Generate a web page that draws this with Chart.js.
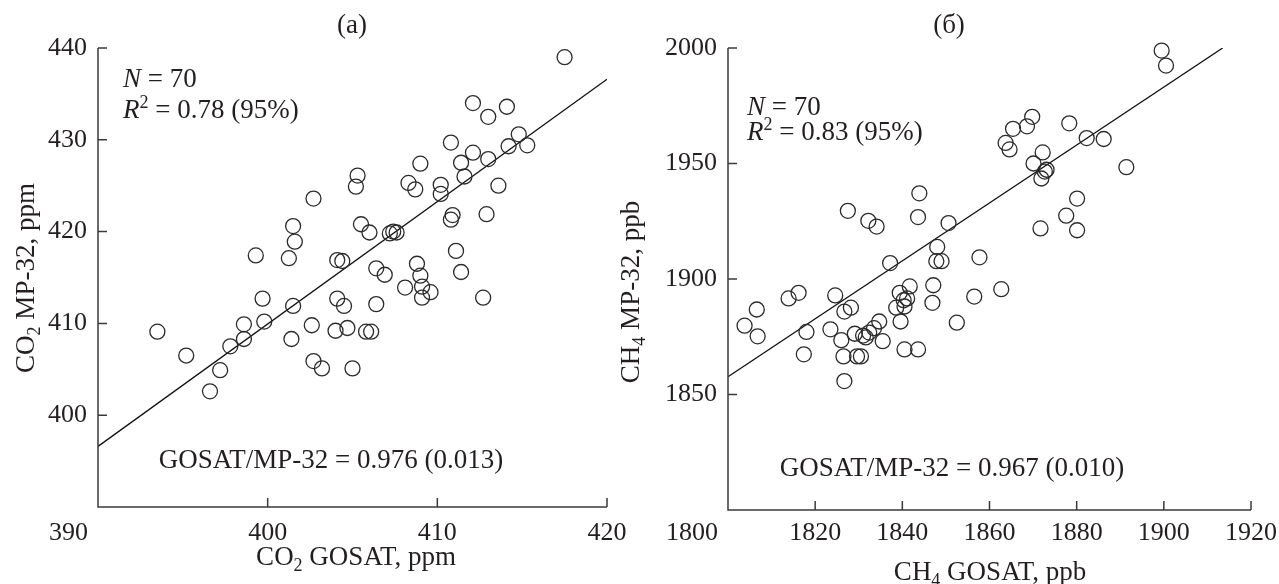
<!DOCTYPE html>
<html>
<head>
<meta charset="utf-8">
<script src="https://cdn.jsdelivr.net/npm/chart.js@4/dist/chart.umd.min.js"></script>
<style>
  body { margin: 0; background: #fff; width: 1279px; height: 584px; overflow: hidden; position: relative; }
  .wrap { position: absolute; top: 0; }
</style>
</head>
<body>
<div class="wrap" style="left:0"><canvas id="chA" width="640" height="584" style="width:640px;height:584px"></canvas></div>
<div class="wrap" style="left:600px"><canvas id="chB" width="679" height="584" style="width:679px;height:584px"></canvas></div>
<script>
// (a) CO2
const co2Gosat = [393.5, 395.2, 396.6, 397.2, 397.8, 398.6, 398.6, 399.3, 399.7, 399.8,
  401.25, 401.5, 401.6, 401.5, 401.4, 402.7, 402.6, 402.7, 403.2, 404.1,
  404.4, 404.1, 404.5, 404.0, 404.7, 405.0, 405.3, 405.2, 405.5, 406.0,
  406.4, 406.4, 405.8, 406.1, 406.9, 407.2, 407.4, 407.6, 408.1, 408.3,
  408.7, 409.0, 408.8, 409.0, 409.1, 409.1, 409.6, 410.2, 410.2, 410.8,
  410.9, 410.8, 411.1, 411.4, 411.4, 411.6, 412.1, 412.1, 412.7, 413.0,
  413.0, 412.9, 413.6, 414.1, 414.2, 414.8, 415.3, 417.5];
const co2Mp = [409.1, 406.5, 402.6, 404.9, 407.5, 409.9, 408.3, 417.4, 412.7, 410.2,
  417.1, 420.6, 418.9, 411.9, 408.3, 423.6, 409.8, 405.9, 405.1, 416.9,
  416.8, 412.7, 411.9, 409.2, 409.5, 405.1, 426.1, 424.9, 420.8, 419.9,
  416.0, 412.1, 409.1, 409.1, 415.3, 419.8, 420.0, 419.9, 413.9, 425.3,
  424.6, 427.4, 416.5, 415.2, 414.0, 412.8, 413.4, 425.1, 424.1, 429.7,
  421.8, 421.3, 417.9, 415.6, 427.5, 426.0, 434.0, 428.6, 412.8, 432.5,
  427.9, 421.9, 425.0, 433.6, 429.3, 430.6, 429.4, 439.0];
const co2FitX = [390, 420];
const co2FitY = [396.6, 436.6];
const co2XTicks = [390, 400, 410, 420];
const co2YTicks = [400, 410, 420, 430, 440];

// (б) CH4
const ch4Gosat = [1803.8, 1806.6, 1806.8, 1813.9, 1816.2, 1818.0, 1817.4, 1823.5, 1824.6, 1826.0,
  1826.5, 1826.7, 1826.7, 1828.2, 1827.5, 1829.1, 1829.6, 1830.5, 1831.0, 1831.6,
  1832.4, 1832.2, 1834.1, 1833.5, 1834.7, 1835.5, 1837.2, 1838.6, 1839.4, 1839.6,
  1840.3, 1840.5, 1841.1, 1840.5, 1841.7, 1843.6, 1843.9, 1843.6, 1846.9, 1847.1,
  1848.0, 1847.8, 1849.0, 1850.6, 1852.5, 1856.5, 1857.7, 1862.7, 1863.7, 1864.6,
  1865.4, 1868.6, 1869.8, 1870.1, 1871.7, 1872.2, 1871.9, 1872.7, 1873.1, 1877.6,
  1878.3, 1880.1, 1880.1, 1882.3, 1886.2, 1891.4, 1899.5, 1900.5];
const ch4Mp = [1879.8, 1886.8, 1875.2, 1891.6, 1894.0, 1877.1, 1867.4, 1878.2, 1892.9, 1873.5,
  1866.5, 1855.8, 1885.9, 1887.6, 1929.5, 1876.3, 1866.5, 1866.5, 1875.5, 1874.7,
  1876.8, 1925.2, 1922.7, 1878.7, 1881.6, 1873.1, 1906.9, 1887.6, 1894.0, 1881.6,
  1890.8, 1888.1, 1891.6, 1869.5, 1896.8, 1869.5, 1937.1, 1926.8, 1889.7, 1897.3,
  1913.9, 1907.7, 1907.7, 1924.2, 1881.1, 1892.4, 1909.4, 1895.6, 1958.9, 1956.1,
  1965.0, 1966.1, 1970.2, 1950.0, 1921.9, 1954.8, 1943.5, 1946.5, 1947.3, 1927.4,
  1967.4, 1934.8, 1921.1, 1961.0, 1960.6, 1948.4, 1998.9, 1992.4];
const ch4FitX = [1800, 1913.5];
const ch4FitY = [1857.7, 2000];
const ch4XTicks = [1800, 1820, 1840, 1860, 1880, 1900, 1920];
const ch4YTicks = [1850, 1900, 1950, 2000];

const SERIF = '"Liberation Serif", "Times New Roman", serif';
const INK = '#231f20';

// parts: [text, kind], kind '' | 'i' | 'sub' | 'sup'
function rich(ctx, parts, x, y, align, size) {
  const fonts = parts.map(([t, k]) => {
    const s = (k === 'sub' || k === 'sup') ? Math.round(size * 0.68) : size;
    return (k === 'i' ? 'italic ' : '') + s + 'px ' + SERIF;
  });
  const widths = parts.map(([t], i) => { ctx.font = fonts[i]; return ctx.measureText(t).width; });
  const total = widths.reduce((a, b) => a + b, 0);
  let cx = align === 'center' ? x - total / 2 : align === 'right' ? x - total : x;
  ctx.textAlign = 'left';
  ctx.textBaseline = 'alphabetic';
  parts.forEach(([t, k], i) => {
    ctx.font = fonts[i];
    const dy = k === 'sub' ? size * 0.22 : k === 'sup' ? -size * 0.38 : 0;
    ctx.fillText(t, cx, y + dy);
    cx += widths[i];
  });
}

const frame = {
  id: 'frame',
  afterDraw(chart, args, o) {
    const { ctx, chartArea: a } = chart;
    const xs = chart.scales.x, ys = chart.scales.y;
    ctx.save();
    ctx.strokeStyle = '#3a3a3a';
    ctx.lineWidth = 1.5;
    ctx.beginPath();
    ctx.moveTo(a.left, a.top);
    ctx.lineTo(a.left, a.bottom);
    ctx.lineTo(a.right, a.bottom);
    o.yTicks.forEach(v => {
      const p = ys.getPixelForValue(v);
      ctx.moveTo(a.left, p); ctx.lineTo(a.left + 9, p);
    });
    o.xTicks.slice(1).forEach(v => {
      const p = xs.getPixelForValue(v);
      ctx.moveTo(p, a.bottom); ctx.lineTo(p, a.bottom - 9);
    });
    ctx.stroke();

    ctx.fillStyle = INK;
    ctx.font = '26px ' + SERIF;
    ctx.textBaseline = 'alphabetic';
    o.xTicks.forEach((v, i) => {
      const p = xs.getPixelForValue(v);
      ctx.textAlign = i === 0 ? 'right' : 'center';
      ctx.fillText(String(v), i === 0 ? p - 10 : p, o.tickBase);
    });

    rich(ctx, [[o.title, '']], o.titleX, o.titleBase, 'center', 27);
    rich(ctx, o.xTitle, o.xTitleX, o.xTitleBase, 'center', 27);
    ctx.save();
    ctx.translate(o.yTitleBase, o.yTitleY);
    ctx.rotate(-Math.PI / 2);
    rich(ctx, o.yTitle, 0, 0, 'center', 27);
    ctx.restore();
    rich(ctx, [['N', 'i'], [' = 70', '']], o.noteX, o.nBase, 'left', 27);
    rich(ctx, [['R', 'i'], ['2', 'sup'], [' = ' + o.r2, '']], o.noteX, o.rBase, 'left', 27);
    rich(ctx, [['GOSAT/MP-32 = ' + o.ratio, '']], o.ratioX, o.ratioBase, 'center', 27);
    ctx.restore();
  }
};

function panel(id, gx, gy, fitX, fitY, xr, yr, xTicks, yTicks, yWidth, pad, text) {
  return new Chart(document.getElementById(id), {
    type: 'scatter',
    data: {
      datasets: [
        {
          data: gx.map((v, i) => ({ x: v, y: gy[i] })),
          pointStyle: 'circle',
          pointRadius: 7.5,
          borderWidth: 1.3,
          borderColor: '#2b2b2b',
          backgroundColor: 'rgba(0,0,0,0)',
          clip: false
        },
        {
          data: fitX.map((v, i) => ({ x: v, y: fitY[i] })),
          showLine: true,
          pointRadius: 0,
          borderWidth: 1.3,
          borderColor: '#111'
        }
      ]
    },
    options: {
      responsive: false,
      animation: false,
      devicePixelRatio: 1,
      events: [],
      layout: { padding: pad },
      scales: {
        x: { type: 'linear', min: xr[0], max: xr[1], display: false },
        y: {
          type: 'linear', min: yr[0], max: yr[1],
          grid: { display: false, drawTicks: false },
          border: { display: false },
          afterBuildTicks: s => { s.ticks = yTicks.map(v => ({ value: v })); },
          afterFit: s => { s.width = yWidth; },
          ticks: {
            padding: 11,
            color: INK,
            font: { family: SERIF, size: 26 },
            callback: v => String(v)
          }
        }
      },
      plugins: {
        legend: { display: false },
        tooltip: { enabled: false },
        frame: Object.assign({ xTicks, yTicks }, text)
      }
    },
    plugins: [frame]
  });
}

panel('chA', co2Gosat, co2Mp, co2FitX, co2FitY, [390, 420], [390, 440], co2XTicks, co2YTicks,
  98, { left: 0, top: 48, right: 33, bottom: 77 }, {
    tickBase: 540,
    title: '(a)', titleX: 352, titleBase: 33,
    xTitle: [['CO', ''], ['2', 'sub'], [' GOSAT, ppm', '']], xTitleX: 356, xTitleBase: 565,
    yTitle: [['CO', ''], ['2', 'sub'], [' MP-32, ppm', '']], yTitleBase: 34, yTitleY: 278,
    noteX: 123, nBase: 87, rBase: 118, r2: '0.78 (95%)',
    ratio: '0.976 (0.013)', ratioX: 331, ratioBase: 468
  });

panel('chB', ch4Gosat, ch4Mp, ch4FitX, ch4FitY, [1800, 1920], [1800, 2000], ch4XTicks, ch4YTicks,
  128, { left: 0, top: 48, right: 28, bottom: 74 }, {
    tickBase: 540,
    title: '(б)', titleX: 349, titleBase: 33,
    xTitle: [['CH', ''], ['4', 'sub'], [' GOSAT, ppb', '']], xTitleX: 390, xTitleBase: 580,
    yTitle: [['CH', ''], ['4', 'sub'], [' MP-32, ppb', '']], yTitleBase: 39, yTitleY: 292,
    noteX: 147, nBase: 115, rBase: 140, r2: '0.83 (95%)',
    ratio: '0.967 (0.010)', ratioX: 352, ratioBase: 476
  });
</script>
</body>
</html>
